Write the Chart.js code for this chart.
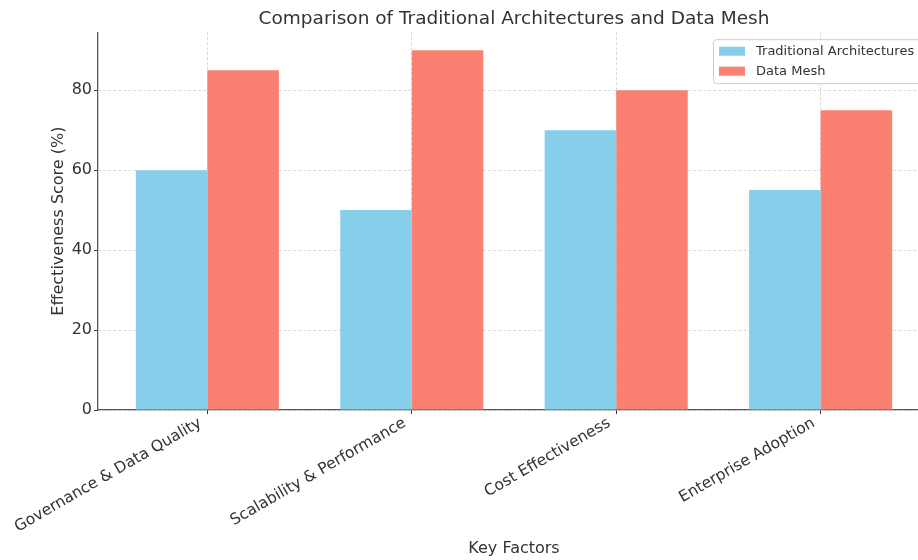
<!DOCTYPE html>
<html>
<head>
<meta charset="utf-8">
<script src="https://cdn.jsdelivr.net/npm/chart.js@4"></script>
<style>
  html, body { margin: 0; padding: 0; background: #fff; overflow: hidden; }
  canvas { display: block; }
</style>
</head>
<body>
<canvas id="chart" width="930" height="560"></canvas>
<script>
// data
const categories = ['Governance & Data Quality', 'Scalability & Performance', 'Cost Effectiveness', 'Enterprise Adoption']
const traditional = [60, 50, 70, 55]
const dataMesh = [85, 90, 80, 75]
const yTicks = [0, 20, 40, 60, 80]
const seriesNames = ['Traditional Architectures', 'Data Mesh']
const seriesColors = ['#87CEEB', '#FA8072']

const FONT = 'DejaVu Sans'
const TEXT = '#333333'
const GRID = 'rgba(176,176,176,0.6)'

// matplotlib-style framed legend in the upper right of the plot
const frameLegend = {
  id: 'frameLegend',
  afterDraw (chart) {
    const { ctx, chartArea } = chart
    const x = 713, y = chartArea.top + 7
    const w = chartArea.right - 5 - x, h = 44
    ctx.save()
    ctx.beginPath()
    ctx.roundRect(x + 0.5, y + 0.5, w, h, 3)
    ctx.fillStyle = 'rgba(255,255,255,0.8)'
    ctx.fill()
    ctx.strokeStyle = '#cccccc'
    ctx.lineWidth = 1
    ctx.stroke()
    ctx.font = '13px "' + FONT + '"'
    ctx.textBaseline = 'middle'
    chart.data.datasets.forEach((ds, i) => {
      const cy = y + 12 + i * 20
      ctx.fillStyle = ds.backgroundColor
      ctx.fillRect(x + 6, cy - 4.5, 26, 9)
      ctx.fillStyle = TEXT
      ctx.fillText(ds.label, x + 43, cy)
    })
    ctx.restore()
  }
}

new Chart(document.getElementById('chart'), {
  type: 'bar',
  data: {
    datasets: [
      { label: seriesNames[0], data: traditional.map((v, i) => ({ x: i, y: v })), backgroundColor: seriesColors[0] },
      { label: seriesNames[1], data: dataMesh.map((v, i) => ({ x: i, y: v })), backgroundColor: seriesColors[1] }
    ]
  },
  options: {
    responsive: false,
    animation: false,
    layout: { padding: { left: 49, top: 0, right: 0, bottom: 0 } },
    datasets: { bar: { categoryPercentage: 0.7, barPercentage: 1.0 } },
    scales: {
      x: {
        type: 'linear',
        min: -0.535,
        max: 3.535,
        offset: false,
        afterBuildTicks: s => { s.ticks = categories.map((_, i) => ({ value: i })) },
        afterFit: s => { s.height = 150 },
        grid: { offset: false, color: GRID, lineWidth: 0.8, tickColor: TEXT, tickLength: 4, tickWidth: 1 },
        border: { color: '#595959', width: 1.3, dash: [3, 2] },
        ticks: {
          callback: v => categories[v],
          minRotation: 30, maxRotation: 30, autoSkip: false, padding: 0, labelOffset: -7,
          color: TEXT, font: { family: FONT, size: 15.5 }
        },
        title: { display: true, text: 'Key Factors', color: TEXT, font: { family: FONT, size: 16 }, padding: { top: 0, bottom: 2 } }
      },
      y: {
        min: 0,
        max: 94.5,
        afterBuildTicks: s => { s.ticks = yTicks.map(v => ({ value: v })) },
        afterFit: s => { s.width = 49 },
        grid: { color: GRID, lineWidth: 0.8, tickColor: TEXT, tickLength: 4, tickWidth: 1 },
        border: { color: '#595959', width: 1.3, dash: [3, 2] },
        ticks: { padding: 2, color: TEXT, font: { family: FONT, size: 16 } },
        title: { display: true, text: 'Effectiveness Score (%)', color: TEXT, font: { family: FONT, size: 16 }, padding: { top: 0, bottom: 0 } }
      }
    },
    plugins: {
      legend: { display: false },
      tooltip: { enabled: false },
      title: {
        display: true,
        fullSize: false,
        text: 'Comparison of Traditional Architectures and Data Mesh',
        color: TEXT,
        font: { family: FONT, size: 18.5, weight: 'normal' },
        padding: { top: 8, bottom: 2 }
      }
    }
  },
  plugins: [frameLegend]
})
</script>
</body>
</html>
